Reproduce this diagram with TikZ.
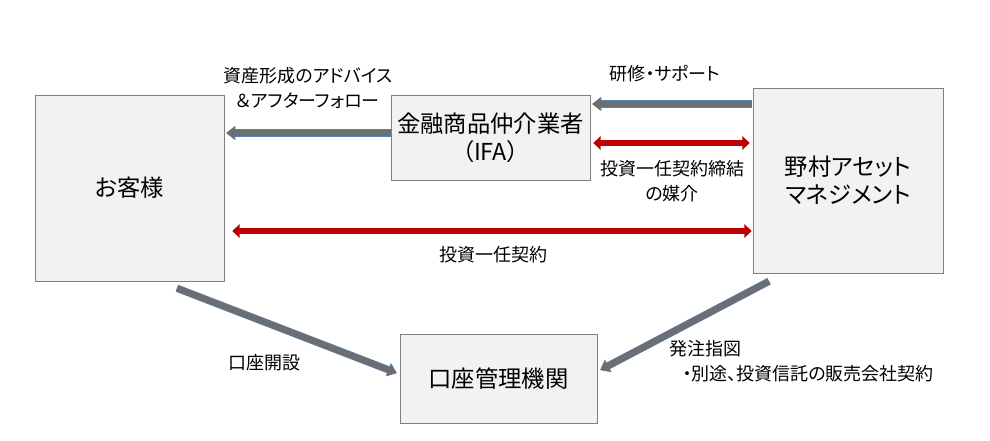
\documentclass[tikz,border=0pt]{standalone}
\usepackage{fontspec}
\setmainfont{Noto Sans CJK JP}[RawFeature=+palt]
\usetikzlibrary{calc}
\usetikzlibrary{arrows.meta}
\tikzset{infobox/.style={shape=rectangle,draw=boxline,fill=boxfill,align=center,inner sep=0,font=\fontsize{17.5}{21}\selectfont}}
\tikzset{flowarrow/.style={line width=4.5pt,draw=shaftgray,-{Triangle[length=6pt,width=9pt]},preaction={draw=shaftblue,line width=5.5pt,-{Triangle[length=6.8pt,width=10.2pt]}}}}
\tikzset{contractarrow/.style={line width=4.2pt,draw=contractred,>={Triangle[length=5.5pt,width=10pt]},<->}}
\tikzset{lbl/.style={align=center,inner sep=0,font=\fontsize{13.5}{18.75}\selectfont}}

\begin{document}
\begin{tikzpicture}[x=0.75pt,y=-0.75pt]

	\definecolor{boxfill}{RGB}{242,242,242}
	\definecolor{boxline}{RGB}{128,128,128}
	\definecolor{shaftgray}{RGB}{110,110,110}
	\definecolor{shaftblue}{RGB}{79,129,189}
	\definecolor{contractred}{RGB}{192,0,0}

	\useasboundingbox (0,0) rectangle (990,441);

	% boxes
	\node [infobox,minimum width=141.75pt,minimum height=139.5pt] (cust) at (129.5,188) {お客様};
	\node [infobox,minimum width=149.25pt,minimum height=63.75pt] (ifa) at (490.5,137.5) {金融商品仲介業者\\（IFA）};
	\node [infobox,minimum width=142.5pt,minimum height=138.75pt] (nomura) at (848,180.5) {野村アセット\\マネジメント};
	\node [infobox,minimum width=147.75pt,minimum height=66.75pt] (bank) at (498.5,378.5) {口座管理機関};

	% labels
	\node [lbl] (advice) at (308,88) {資産形成のアドバイス\\＆アフターフォロー};
	\node [lbl] (training) at (665,74) {研修・サポート};
	\node [lbl] (broker) at (672,181) {投資一任契約締結\\の媒介};
	\node [lbl] (contract) at (493,255) {投資一任契約};
	\node [lbl] (account) at (264,363) {口座開設};
	\node [lbl,align=left,anchor=west] (order) at (669,361) {発注指図\\\hspace*{10pt}・別途、投資信託の販売会社契約};

	% arrows
	\draw [flowarrow] ($(ifa.west)+(0,-4.5)$) -- ($(cust.east)+(2,-55)$);
	\draw [flowarrow] ($(nomura.west)+(-1,-76.5)$) -- ($(ifa.east)+(2,-33.5)$);
	\draw [contractarrow] ($(ifa.east)+(3,5.5)$) -- ($(nomura.west)+(-3,-37.5)$);
	\draw [contractarrow] ($(cust.east)+(8,43)$) -- ($(nomura.west)+(-1,50.5)$);

	\draw [flowarrow] ($(cust.south)+(47.5,7)$) -- ($(bank.west)+(-3,-5.5)$);
	\draw [flowarrow] ($(nomura.south)+(-79,8)$) -- ($(bank.east)+(3,-8.5)$);

\end{tikzpicture}
\end{document}
